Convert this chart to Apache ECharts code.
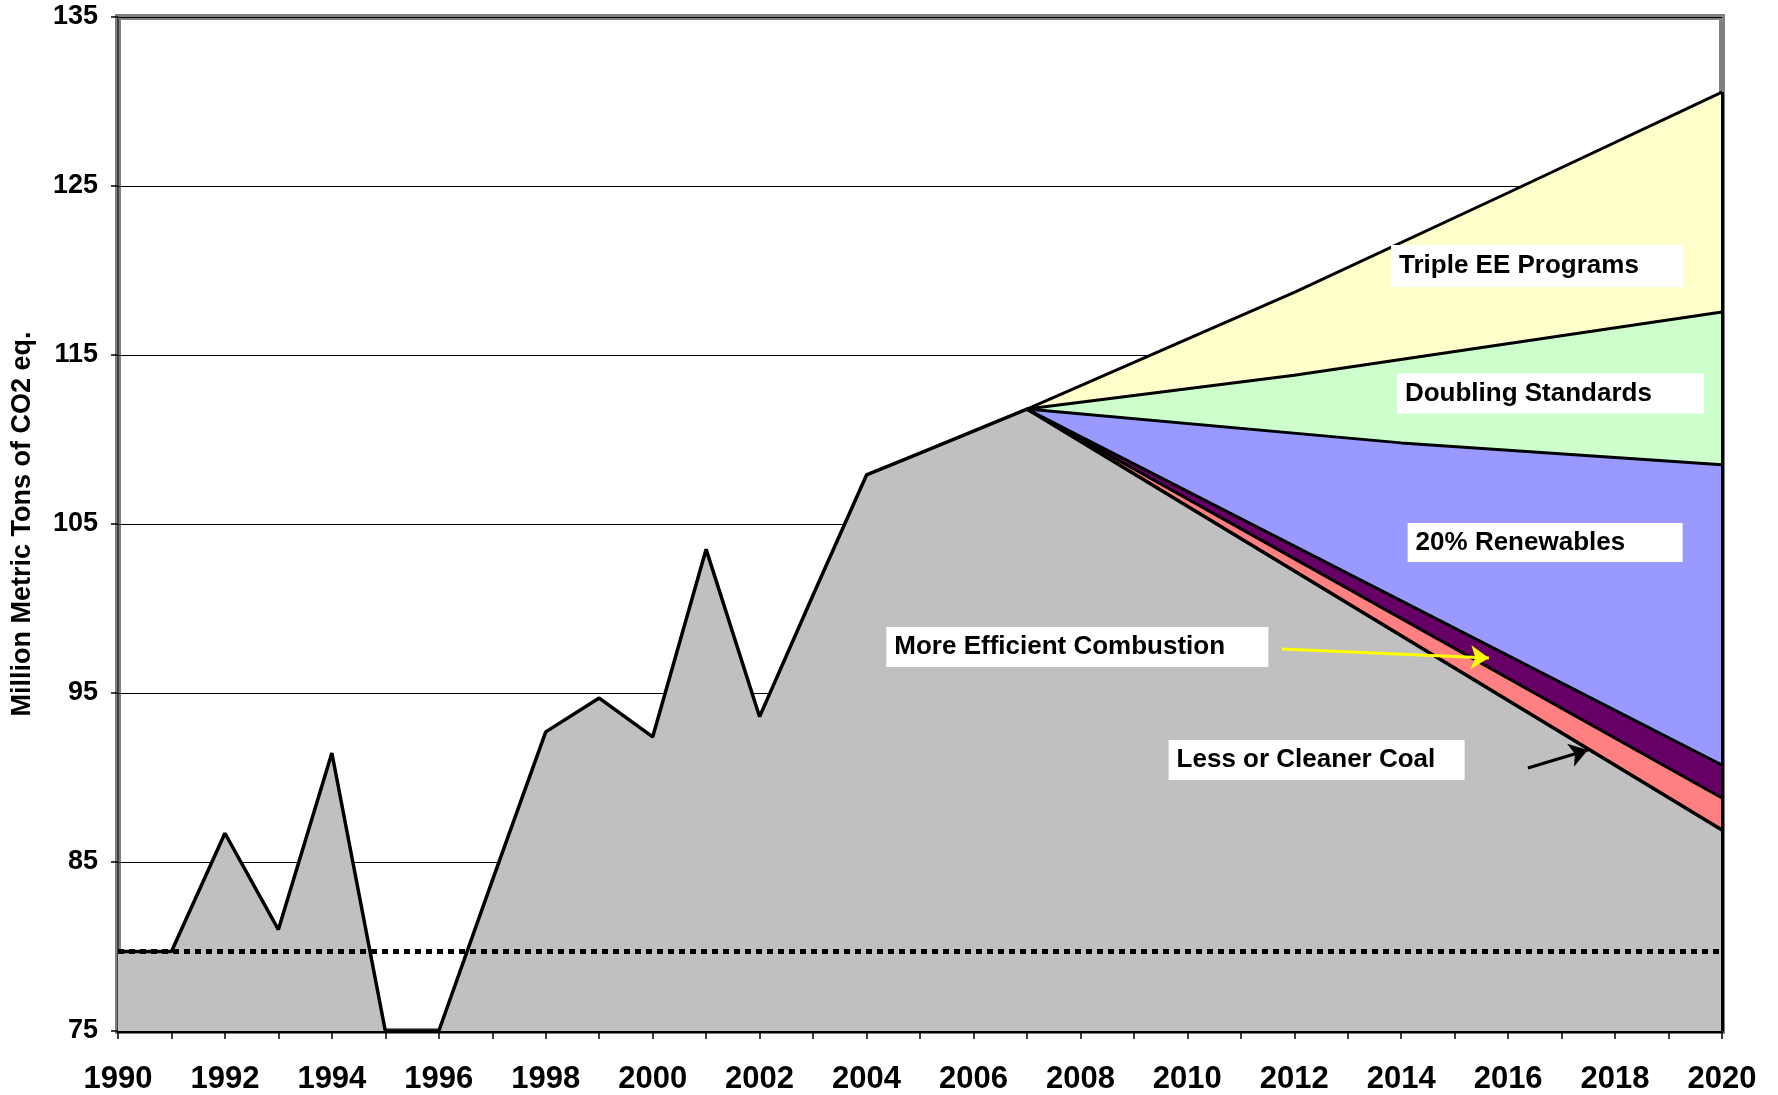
<!DOCTYPE html>
<html>
<head>
<meta charset="utf-8">
<script src="https://cdn.jsdelivr.net/npm/echarts@6/dist/echarts.min.js"></script>
<style>
  html, body { margin: 0; padding: 0; background: #fff; }
  #chart { width: 1778px; height: 1095px; }
</style>
</head>
<body>
<div id="chart"></div>
<script>
  // historical emissions, 1990-2007
  const histYears = [1990, 1991, 1992, 1993, 1994, 1995, 1996, 1997, 1998, 1999,
    2000, 2001, 2002, 2003, 2004, 2005, 2006, 2007]
  const histValues = [79.7, 79.7, 86.7, 81.0, 91.45, 75, 75, 83.9, 92.7, 94.7,
    92.4, 103.5, 93.6, 100.8, 107.9, 109.2, 110.5, 111.8]

  // projected upper edges of each wedge, [year, value]
  const tripleEE = [[2007, 111.8], [2012, 118.7], [2016, 124.6], [2020, 130.56]]
  const doubling = [[2007, 111.8], [2012, 113.8], [2020, 117.54]]
  const renewables = [[2007, 111.8], [2014, 109.8], [2020, 108.5]]
  const combustion = [[2007, 111.8], [2020, 90.74]]
  const cleanerCoal = [[2007, 111.8], [2020, 88.79]]
  const businessAsUsual = [[2020, 86.9]]

  // 1990 level
  const baseline = 79.7

  const yTicks = [75, 85, 95, 105, 115, 125, 135]

  const FONT = '"Liberation Sans", Arial, Helvetica, sans-serif'

  const notes = [
    { text: 'Triple EE Programs', at: [2013.81, 120.27], w: 292, h: 42 },
    { text: 'Doubling Standards', at: [2013.92, 112.72], w: 307, h: 40 },
    { text: '20% Renewables', at: [2014.12, 103.9], w: 275, h: 39 },
    { text: 'More Efficient Combustion', at: [2004.37, 97.72], w: 382, h: 40 },
    { text: 'Less or Cleaner Coal', at: [2009.65, 91.04], w: 296, h: 40 }
  ]

  const arrows = [
    { from: [2011.77, 97.6], to: [2015.64, 97.07], color: '#ffff00' },
    { from: [2016.37, 90.56], to: [2017.49, 91.63], color: '#000000' }
  ]

  function wedge(name, data, color) {
    return {
      name: name,
      type: 'line',
      data: data,
      symbol: 'none',
      lineStyle: { color: '#000', width: 3 },
      areaStyle: { color: color, opacity: 1, origin: 'start' }
    }
  }

  const history = histYears.map((y, i) => [y, histValues[i]])

  const chart = echarts.init(document.getElementById('chart'))

  const option = {
    animation: false,
    backgroundColor: '#fff',
    grid: {
      left: 118,
      right: 56,
      top: 17,
      bottom: 64,
      show: true,
      borderColor: '#808080',
      borderWidth: 6,
      backgroundColor: 'transparent'
    },
    xAxis: {
      type: 'value',
      min: 1990,
      max: 2020,
      interval: 1,
      axisLine: { show: true, lineStyle: { color: '#000', width: 3 } },
      axisTick: { show: true, length: 8, lineStyle: { color: '#000', width: 1.5 } },
      splitLine: { show: false },
      axisLabel: {
        margin: 33,
        fontSize: 31,
        fontWeight: 'bold',
        fontFamily: FONT,
        color: '#000',
        formatter: v => (v % 2 === 0 ? String(v) : '')
      }
    },
    yAxis: {
      type: 'value',
      min: yTicks[0],
      max: yTicks[yTicks.length - 1],
      interval: 10,
      name: 'Million Metric Tons of CO2 eq.',
      nameLocation: 'middle',
      nameRotate: 90,
      nameGap: 82,
      nameTextStyle: { fontSize: 27, fontWeight: 'bold', fontFamily: FONT, color: '#000' },
      axisLine: { show: true, lineStyle: { color: '#404040', width: 2 } },
      axisTick: { show: true, length: 7, lineStyle: { color: '#000', width: 1.5 } },
      splitLine: { show: true, lineStyle: { color: '#000', width: 1 } },
      axisLabel: {
        margin: 20,
        fontSize: 27,
        fontWeight: 'bold',
        fontFamily: FONT,
        color: '#000'
      }
    },
    series: [
      wedge('Triple EE Programs', tripleEE, '#ffffcc'),
      wedge('Doubling Standards', doubling, '#ccffcc'),
      wedge('20% Renewables', renewables, '#9999ff'),
      wedge('More Efficient Combustion', combustion, '#660066'),
      wedge('Less or Cleaner Coal', cleanerCoal, '#ff8080'),
      {
        name: 'Emissions',
        type: 'line',
        data: history.concat(businessAsUsual),
        symbol: 'none',
        lineStyle: { color: '#000', width: 3.5 },
        areaStyle: { color: '#c0c0c0', opacity: 1, origin: 'start' }
      },
      {
        name: '1990 level',
        type: 'line',
        data: [[1990, baseline], [2020, baseline]],
        symbol: 'none',
        z: 5,
        lineStyle: { color: '#000', width: 5, type: [6, 5] },
        markLine: {
          silent: true,
          symbol: ['none', 'arrow'],
          symbolSize: 18,
          label: { show: false },
          lineStyle: { type: 'solid', width: 3 },
          data: arrows.map(a => [
            { coord: a.from, lineStyle: { color: a.color, type: 'solid', width: 3 } },
            { coord: a.to, lineStyle: { color: a.color, type: 'solid', width: 3 } }
          ]).concat([[
            { coord: [2020, yTicks[0]], symbol: 'none', lineStyle: { color: '#000', type: 'solid', width: 3 } },
            { coord: tripleEE[tripleEE.length - 1], symbol: 'none', lineStyle: { color: '#000', type: 'solid', width: 3 } }
          ]])
        }
      },
      {
        name: 'notes',
        type: 'scatter',
        z: 10,
        symbolSize: 0,
        silent: true,
        itemStyle: { opacity: 1 },
        data: notes.map(n => ({
          name: n.text,
          value: n.at,
          label: { width: n.w - 8, height: n.h, lineHeight: n.h }
        })),
        label: {
          show: true,
          opacity: 1,
          position: 'right',
          distance: 0,
          formatter: p => p.name,
          backgroundColor: '#ffffff',
          padding: [0, 0, 0, 8],
          fontSize: 26,
          fontWeight: 'bold',
          fontFamily: FONT,
          color: '#000',
          align: 'left',
          verticalAlign: 'middle'
        }
      }
    ]
  }

  chart.setOption(option)
</script>
</body>
</html>
